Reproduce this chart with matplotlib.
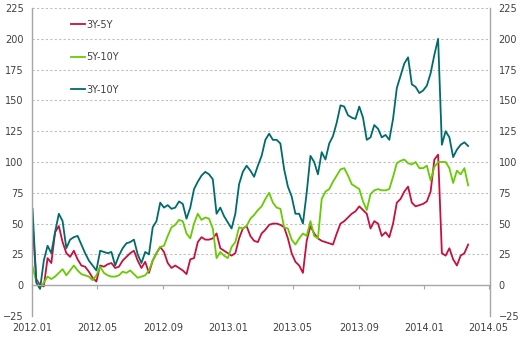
import matplotlib
matplotlib.use("Agg")
import matplotlib.pyplot as plt
import matplotlib.dates as mdates
import pandas as pd

# weekly readings, 2012-01-02 .. 2014-03-24
dates = pd.date_range("2012-01-02", periods=117, freq="7D")

spread_3y_5y = [
    50, 5, 0, -1, 22, 18, 43, 48, 35, 26,
    23, 28, 21, 16, 15, 11, 6, 3, 16, 15,
    17, 18, 14, 15, 20, 23, 26, 28, 20, 14,
    19, 10, 20, 26, 31, 27, 18, 14, 16, 14,
    12, 9, 21, 22, 35, 39, 37, 37, 38, 42,
    30, 28, 26, 24, 26, 38, 46, 48, 40, 36,
    35, 42, 45, 49, 50, 50, 49, 47, 38, 26,
    19, 16, 10, 36, 48, 42, 38, 36, 35, 34,
    33, 42, 50, 52, 55, 58, 60, 64, 61, 58,
    46, 52, 50, 40, 43, 39, 50, 67, 70, 76,
    80, 67, 64, 65, 66, 68, 76, 102, 106, 26,
    24, 30, 21, 16, 24, 26, 33,
]

spread_5y_10y = [
    15, 3, -2, 2, 7, 5, 7, 10, 13, 8,
    12, 16, 12, 9, 8, 7, 4, 8, 15, 10,
    8, 7, 7, 8, 11, 10, 12, 9, 6, 7,
    8, 12, 20, 26, 31, 32, 40, 47, 49, 53,
    52, 42, 38, 50, 58, 53, 55, 54, 46, 22,
    27, 24, 22, 31, 35, 47, 46, 48, 54, 57,
    61, 64, 70, 75, 67, 63, 62, 47, 46, 37,
    33, 38, 42, 40, 52, 40, 38, 70, 76, 78,
    84, 89, 94, 95, 89, 82, 80, 78, 68, 61,
    74, 77, 78, 77, 77, 78, 88, 99, 101, 102,
    99, 98, 100, 95, 95, 97, 85, 96, 100, 100,
    100, 95, 83, 93, 90, 95, 81,
]

spread_3y_10y = [
    62, 2, -3, 20, 32, 26, 43, 58, 52, 30,
    37, 39, 40, 33, 26, 20, 16, 12, 28, 27,
    26, 27, 16, 24, 30, 34, 35, 37, 25, 18,
    27, 25, 47, 52, 67, 63, 65, 62, 63, 68,
    66, 54, 63, 78, 84, 89, 92, 90, 86, 58,
    63, 56, 51, 46, 58, 82, 92, 97, 93, 88,
    97, 105, 118, 123, 118, 118, 115, 94, 80, 72,
    58, 58, 50, 75, 105, 100, 90, 108, 102, 115,
    121, 132, 146, 145, 138, 136, 135, 145, 136, 118,
    120, 130, 127, 120, 122, 118, 135, 160, 170, 180,
    185, 163, 161, 156, 158, 162, 172, 187, 200, 114,
    125, 120, 104, 110, 114, 116, 113,
]

series = [
    ("3Y-5Y", spread_3y_5y, "#C8103E"),
    ("5Y-10Y", spread_5y_10y, "#66CC00"),
    ("3Y-10Y", spread_3y_10y, "#006B6B"),
]

y_ticks = [-25, 0, 25, 50, 75, 100, 125, 150, 175, 200, 225]

fig = plt.figure(figsize=(5.23, 3.41), dpi=100)
ax = fig.add_axes([0.0612, 0.0733, 0.876, 0.9032])

for label, values, color in series:
    ax.plot(dates, values, color=color, lw=1.3, label=label)

ax.set_ylim(-25, 225)
ax.set_yticks(y_ticks)
ax.set_xlim(pd.Timestamp("2012-01-01"), pd.Timestamp("2014-05-04"))
ax.xaxis.set_major_locator(mdates.MonthLocator(bymonth=[1, 5, 9]))
ax.xaxis.set_major_formatter(mdates.DateFormatter("%Y.%m"))

gray = "#A6A6A6"
ax.grid(axis="y", color="#BFBFBF", linestyle=(0, (2, 2)), lw=0.8)
ax.set_axisbelow(True)
fig.canvas.draw()
ax.yaxis.get_gridlines()[0].set_visible(False)
ax.yaxis.get_gridlines()[1].set_visible(False)

ax.spines["top"].set_visible(False)
ax.spines["bottom"].set_position(("data", 0))
for side in ["bottom", "left", "right"]:
    ax.spines[side].set_color(gray)
    ax.spines[side].set_linewidth(1.0)

ax.tick_params(axis="x", direction="out", length=3, width=0.8, color=gray,
               pad=24, labelsize=7, labelcolor="#404040")
ax.tick_params(axis="y", length=0, pad=6, labelsize=7, labelcolor="#404040",
               labelright=True)

ax.legend(loc="upper left", bbox_to_anchor=(0.065, 0.99), frameon=False,
          fontsize=7, handlelength=1.45, handletextpad=0.15, labelspacing=2.3,
          labelcolor="#404040")

fig.savefig("out.png", dpi=100)
